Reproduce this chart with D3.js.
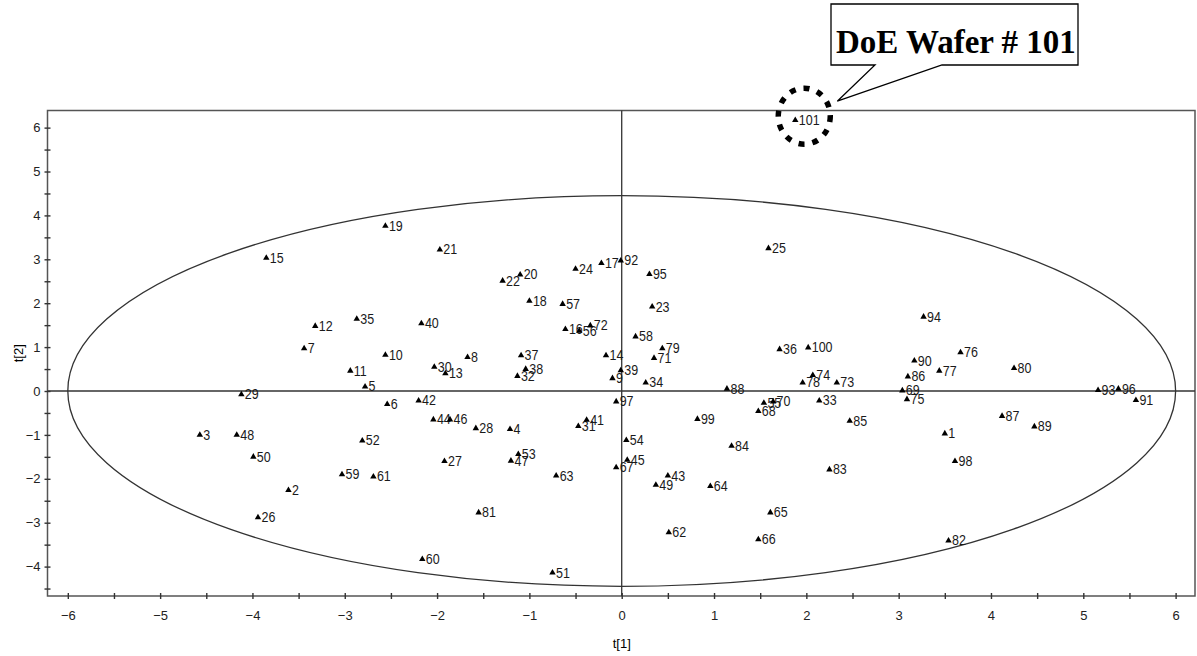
<!DOCTYPE html>
<html>
<head>
<meta charset="utf-8">
<script src="https://cdn.jsdelivr.net/npm/d3@7"></script>
<style>
  body { margin: 0; background: #fff; }
  svg { display: block; }
  .tick text { font-family: "Liberation Sans", Arial, sans-serif; font-size: 13px; fill: #222; }
</style>
</head>
<body>
<script>
// wafer ids and their score values
var waferIds = [1,2,3,4,5,6,7,8,9,10,11,12,13,14,15,16,17,18,19,20,
  21,22,23,24,25,26,27,28,29,30,31,32,33,34,35,36,37,38,39,40,
  41,42,43,44,45,46,47,48,49,50,51,52,53,54,55,56,57,58,59,60,
  61,62,63,64,65,66,67,68,69,70,71,72,73,74,75,76,77,78,79,80,
  81,82,83,84,85,86,87,88,89,90,91,92,93,94,95,96,97,98,99,100,101];

var t1 = [3.50,-3.61,-4.57,-1.21,-2.78,-2.54,-3.44,-1.67,-0.10,-2.56,
  -2.94,-3.32,-1.91,-0.17,-3.85,-0.61,-0.22,-1.00,-2.56,-1.10,
  -1.97,-1.29,0.33,-0.50,1.59,-3.94,-1.92,-1.58,-4.12,-2.03,
  -0.47,-1.13,2.14,0.26,-2.87,1.71,-1.09,-1.04,-0.01,-2.17,
  -0.38,-2.20,0.50,-2.04,0.06,-1.86,-1.20,-4.17,0.37,-3.99,
  -0.75,-2.81,-1.12,0.05,1.54,-0.46,-0.64,0.15,-3.03,-2.16,
  -2.69,0.51,-0.71,0.96,1.61,1.48,-0.06,1.48,3.04,1.64,
  0.35,-0.34,2.33,2.07,3.09,3.67,3.44,1.96,0.44,4.25,
  -1.55,3.54,2.25,1.19,2.47,3.10,4.12,1.14,4.47,3.17,
  5.57,-0.01,5.16,3.27,0.30,5.38,-0.06,3.61,0.82,2.02,1.88];

var t2 = [-0.97,-2.26,-1.00,-0.87,0.10,-0.30,0.97,0.77,0.29,0.82,
  0.46,1.48,0.40,0.81,3.03,1.41,2.91,2.05,3.76,2.65,
  3.22,2.51,1.92,2.78,3.25,-2.88,-1.60,-0.85,-0.08,0.55,
  -0.80,0.34,-0.22,0.19,1.64,0.95,0.81,0.50,0.47,1.54,
  -0.66,-0.22,-1.93,-0.65,-1.57,-0.65,-1.59,-1.00,-2.14,-1.50,
  -4.14,-1.13,-1.44,-1.12,-0.27,1.37,1.98,1.24,-1.90,-3.83,
  -1.95,-3.22,-1.93,-2.17,-2.77,-3.38,-1.74,-0.46,0.01,-0.24,
  0.75,1.49,0.19,0.36,-0.19,0.88,0.46,0.19,0.97,0.52,
  -2.77,-3.41,-1.79,-1.25,-0.68,0.33,-0.57,0.05,-0.81,0.69,
  -0.21,2.97,0.02,1.69,2.66,0.05,-0.24,-1.60,-0.64,0.99,6.17];

var xTicks = d3.range(-6, 6.01, 0.5);
var yTicks = d3.range(-4.5, 6.01, 0.5);
var xDomain = [-6.22, 6.21];
var yDomain = [-4.67, 6.39];
var ellipseT1 = 6, ellipseT2 = 4.45;   // Hotelling T2 ellipse radii
var outlierId = 101;
var calloutText = "DoE Wafer # 101";

var width = 1197, height = 656;
var svg = d3.select("body").append("svg")
  .attr("width", width)
  .attr("height", height);

var x = d3.scaleLinear().domain(xDomain).range([47.5, 1195]);
var y = d3.scaleLinear().domain(yDomain).range([596, 110.5]);

var points = waferIds.map(function (id, i) { return { id: id, t1: t1[i], t2: t2[i] }; });

// frame
svg.append("rect")
  .attr("x", x(xDomain[0])).attr("y", y(yDomain[1]))
  .attr("width", x(xDomain[1]) - x(xDomain[0]))
  .attr("height", y(yDomain[0]) - y(yDomain[1]))
  .attr("fill", "none").attr("stroke", "#555").attr("stroke-width", 1.5);

// zero lines
svg.append("line")
  .attr("x1", x(xDomain[0])).attr("x2", x(xDomain[1]))
  .attr("y1", y(0)).attr("y2", y(0))
  .attr("stroke", "#333").attr("stroke-width", 1.3);
svg.append("line")
  .attr("x1", x(0)).attr("x2", x(0))
  .attr("y1", y(yDomain[0])).attr("y2", y(yDomain[1]))
  .attr("stroke", "#333").attr("stroke-width", 1.3);

// ellipse
svg.append("ellipse")
  .attr("cx", x(0)).attr("cy", y(0))
  .attr("rx", x(ellipseT1) - x(0))
  .attr("ry", y(0) - y(ellipseT2))
  .attr("fill", "none").attr("stroke", "#333").attr("stroke-width", 1.3);

// axes
var fmt = function (d) { return Number.isInteger(d) ? d3.format("d")(d) : ""; };
var xAxis = svg.append("g")
  .attr("transform", "translate(0," + y(yDomain[0]) + ")")
  .call(d3.axisBottom(x).tickValues(xTicks).tickFormat(fmt).tickSizeInner(3).tickSizeOuter(0).tickPadding(12));
xAxis.select(".domain").remove();
xAxis.selectAll(".tick line").attr("y1", -3).attr("stroke", "#333").attr("stroke-width", 1.4);

var yAxis = svg.append("g")
  .attr("transform", "translate(" + x(xDomain[0]) + ",0)")
  .call(d3.axisLeft(y).tickValues(yTicks).tickFormat(fmt).tickSizeInner(3).tickSizeOuter(0).tickPadding(4));
yAxis.select(".domain").remove();
yAxis.selectAll(".tick line").attr("x1", 3).attr("stroke", "#333").attr("stroke-width", 1.4);

// axis titles
svg.append("text")
  .attr("x", x(0)).attr("y", 648)
  .attr("text-anchor", "middle")
  .style("font-family", "Liberation Sans, Arial, sans-serif").style("font-size", "13px")
  .text("t[1]");
svg.append("text")
  .attr("transform", "translate(23," + ((y(yDomain[0]) + y(yDomain[1])) / 2) + ") rotate(-90)")
  .attr("text-anchor", "middle")
  .style("font-family", "Liberation Sans, Arial, sans-serif").style("font-size", "13px")
  .text("t[2]");

// points
var pts = svg.selectAll("g.pt")
  .data(points)
  .enter()
  .append("g")
  .attr("class", "pt")
  .attr("transform", function (d) { return "translate(" + x(d.t1) + "," + y(d.t2) + ")"; });

pts.append("path")
  .attr("d", d3.symbol().type(d3.symbolTriangle).size(18))
  .attr("fill", "#000");

pts.append("text")
  .attr("transform", "translate(3.5,4.8) scale(1,1.2)")
  .style("font-family", "Liberation Sans, Arial, sans-serif")
  .style("font-size", "12.5px")
  .attr("fill", "#1a1a1a")
  .text(function (d) { return d.id; });

// callout for the outlier
var out = points.filter(function (d) { return d.id === outlierId; })[0];
svg.append("ellipse")
  .attr("cx", x(out.t1) + 9).attr("cy", y(out.t2) - 4)
  .attr("rx", 26).attr("ry", 28)
  .attr("fill", "none").attr("stroke", "#000")
  .attr("stroke-width", 5.5).attr("stroke-dasharray", "6,8");

var tipX = x(out.t1) + 42, tipY = y(out.t2) - 19;
svg.append("path")
  .attr("d", "M831,4 H1078 V65 H942 L" + tipX + "," + tipY + " L875,65 H831 Z")
  .attr("fill", "#fff").attr("stroke", "#000").attr("stroke-width", 1.3);

svg.append("text")
  .attr("x", 836).attr("y", 53)
  .style("font-family", "Liberation Serif, Times New Roman, serif")
  .style("font-size", "33px").style("font-weight", "bold")
  .text(calloutText);
</script>
</body>
</html>
